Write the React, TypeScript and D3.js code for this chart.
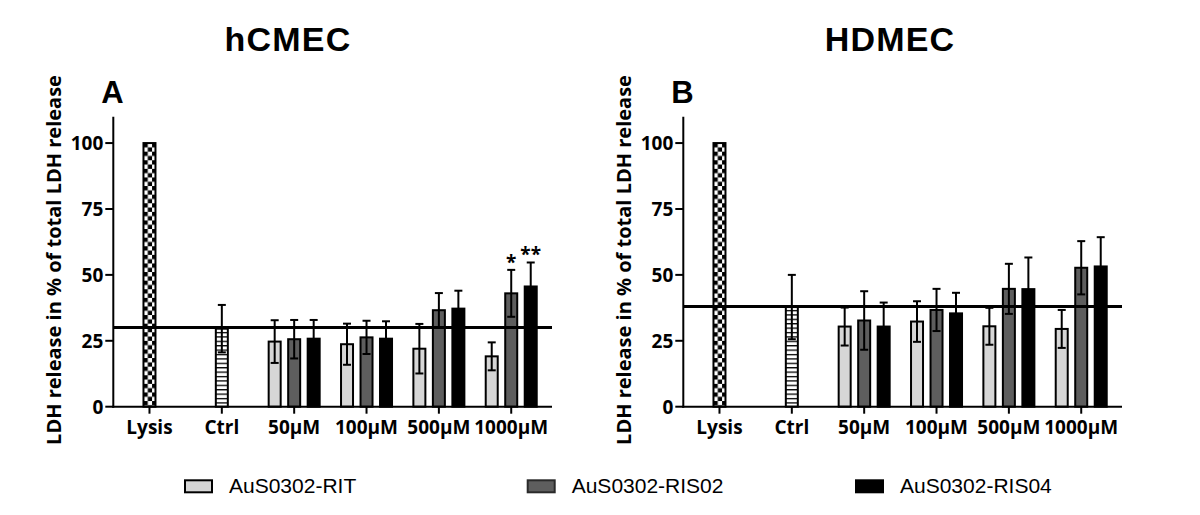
import React from "react";
import * as d3 from "d3";

// ---------- data ----------
const categories = ["Lysis", "Ctrl", "50µM", "100µM", "500µM", "1000µM"];
const concentrations = ["50µM", "100µM", "500µM", "1000µM"];
const seriesNames = ["AuS0302-RIT", "AuS0302-RIS02", "AuS0302-RIS04"];
const yTicks = [0, 25, 50, 75, 100];

// panel A – hCMEC
const hcmecLysis = 100;
const hcmecCtrl = 29.6;
const hcmecCtrlErr = 9.0;
const hcmecBaseline = 30.0;
const hcmecRIT = [24.7, 23.7, 22.0, 19.1];
const hcmecRITErr = [8.1, 7.8, 9.4, 5.3];
const hcmecRIS02 = [25.6, 26.3, 36.6, 43.0];
const hcmecRIS02Err = [7.3, 6.3, 6.5, 8.9];
const hcmecRIS04 = [25.8, 25.8, 37.2, 45.6];
const hcmecRIS04Err = [7.1, 6.6, 6.8, 9.1];
const hcmecSig = [
  ["", "", "", ""],
  ["", "", "", "*"],
  ["", "", "", "**"],
];

// panel B – HDMEC
const hdmecLysis = 100;
const hdmecCtrl = 37.8;
const hdmecCtrlErr = 12.2;
const hdmecBaseline = 38.0;
const hdmecRIT = [30.4, 32.3, 30.5, 29.5];
const hdmecRITErr = [7.2, 7.7, 7.0, 7.2];
const hdmecRIS02 = [32.7, 36.7, 44.7, 52.7];
const hdmecRIS02Err = [11.1, 8.0, 9.5, 10.1];
const hdmecRIS04 = [30.4, 35.4, 44.6, 53.2];
const hdmecRIS04Err = [9.1, 7.8, 12.0, 11.1];
const hdmecSig = [
  ["", "", "", ""],
  ["", "", "", ""],
  ["", "", "", ""],
];

const seriesFill = ["#d6d6d6", "#5e5e5e", "#000000"];

const TICK_FONT = "'Open Sans', sans-serif";
const TITLE_FONT = "'Liberation Sans', Arial, sans-serif";

type PanelProps = {
  dx: number;
  title: string;
  titleX: number;
  letter: string;
  lysis: number;
  ctrl: number;
  ctrlErr: number;
  baseline: number;
  series: number[][];
  errs: number[][];
  sig: string[][];
  id: string;
};

function ErrorBar({ x, y0, y1, cap }: { x: number; y0: number; y1: number; cap: number }) {
  return (
    <g stroke="#000" strokeWidth={2} fill="none">
      <line x1={x} x2={x} y1={y0} y2={y1} />
      <line x1={x - cap} x2={x + cap} y1={y0} y2={y0} />
      <line x1={x - cap} x2={x + cap} y1={y1} y2={y1} />
    </g>
  );
}

function Panel(p: PanelProps) {
  const axisLeft = 113.3 + p.dx;
  const axisRight = 552 + p.dx;
  const x = d3
    .scaleBand<string>()
    .domain(categories)
    .range([axisLeft, axisLeft + 6 * 72.35])
    .padding(0);
  const y = d3.scaleLinear().domain([0, 110]).range([406.7, 116.7]);
  const inner = d3.scalePoint<string>().domain(seriesNames).range([-19.5, 19.5]);
  const bw = 12;
  const cx = (c: string) => (x(c) as number) + x.bandwidth() / 2;
  const y0 = y(0);

  return (
    <g>
      <defs>
        <pattern id={`check-${p.id}`} patternUnits="userSpaceOnUse" width={8.6} height={8.6}
          x={cx("Lysis") - bw / 2} y={y(p.lysis)}>
          <rect width={8.6} height={8.6} fill="#fff" />
          <rect width={4.3} height={4.3} fill="#000" />
          <rect x={4.3} y={4.3} width={4.3} height={4.3} fill="#000" />
        </pattern>
        <pattern id={`stripe-${p.id}`} patternUnits="userSpaceOnUse" width={10} height={4.4}
          x={0} y={y0}>
          <rect width={10} height={4.4} fill="#fff" />
          <rect y={0} width={10} height={1.3} fill="#000" />
        </pattern>
      </defs>

      {/* title & letter */}
      <text x={p.titleX} y={51} textAnchor="middle" fontFamily={TITLE_FONT} fontWeight="bold"
        fontSize={34} letterSpacing={1.2}>{p.title}</text>
      <text x={112.5 + p.dx} y={103} textAnchor="middle" fontFamily={TITLE_FONT} fontWeight="bold"
        fontSize={31}>{p.letter}</text>

      {/* y label */}
      <text transform={`translate(${53 + p.dx},${260}) rotate(-90)`} textAnchor="middle"
        dominantBaseline="central" fontFamily={TICK_FONT} fontWeight="bold" fontSize={20}>
        LDH release in % of total LDH release
      </text>

      {/* Lysis bar */}
      <rect x={cx("Lysis") - bw / 2} y={y(p.lysis)} width={bw} height={y0 - y(p.lysis)}
        fill={`url(#check-${p.id})`} stroke="#000" strokeWidth={2} />
      {/* Ctrl bar */}
      <rect x={cx("Ctrl") - bw / 2} y={y(p.ctrl)} width={bw} height={y0 - y(p.ctrl)}
        fill={`url(#stripe-${p.id})`} stroke="#000" strokeWidth={2} />
      <ErrorBar x={cx("Ctrl")} y0={y(p.ctrl + p.ctrlErr)} y1={y(p.ctrl - p.ctrlErr)} cap={4} />

      {/* grouped bars */}
      {concentrations.map((c, ci) =>
        seriesNames.map((s, si) => {
          const v = p.series[si][ci];
          const e = p.errs[si][ci];
          const bx = cx(c) + (inner(s) as number);
          return (
            <g key={c + s}>
              <rect x={bx - bw / 2} y={y(v)} width={bw} height={y0 - y(v)} fill={seriesFill[si]}
                stroke="#000" strokeWidth={2} />
              <ErrorBar x={bx} y0={y(v + e)} y1={y(v - e)} cap={4} />
              {p.sig[si][ci] ? (
                <text x={bx} y={y(v + e) - 1} textAnchor="middle" fontFamily={TICK_FONT}
                  fontWeight="bold" fontSize={19}>{p.sig[si][ci]}</text>
              ) : null}
            </g>
          );
        })
      )}

      {/* baseline (control level) */}
      <line x1={axisLeft} x2={axisRight} y1={y(p.baseline)} y2={y(p.baseline)} stroke="#000"
        strokeWidth={3} />

      {/* y axis */}
      <line x1={axisLeft} x2={axisLeft} y1={y(110)} y2={y0 + 1} stroke="#000" strokeWidth={2} />
      {yTicks.map((t) => (
        <g key={t}>
          <line x1={axisLeft - 8} x2={axisLeft} y1={y(t)} y2={y(t)} stroke="#000" strokeWidth={2} />
          <text x={axisLeft - 10} y={y(t)} textAnchor="end" dominantBaseline="central"
            fontFamily={TICK_FONT} fontWeight="bold" fontSize={19}>{t}</text>
        </g>
      ))}

      {/* x axis */}
      <line x1={axisLeft - 1} x2={axisRight} y1={y0} y2={y0} stroke="#000" strokeWidth={2} />
      {categories.map((c) => (
        <g key={c}>
          <line x1={cx(c)} x2={cx(c)} y1={y0} y2={y0 + 7} stroke="#000" strokeWidth={2} />
          <text x={cx(c)} y={433.5} textAnchor="middle" fontFamily={TICK_FONT} fontWeight="bold"
            fontSize={19}>{c}</text>
        </g>
      ))}
    </g>
  );
}

const legendX = [184, 526.7, 855];

export default function App() {
  return (
    <svg width={1200} height={515} style={{ position: "absolute", left: 0, top: 0, background: "#fff" }}>
      <rect width={1200} height={515} fill="#fff" />
      <Panel id="a" dx={0} title="hCMEC" titleX={288} letter="A" lysis={hcmecLysis}
        ctrl={hcmecCtrl} ctrlErr={hcmecCtrlErr} baseline={hcmecBaseline}
        series={[hcmecRIT, hcmecRIS02, hcmecRIS04]} errs={[hcmecRITErr, hcmecRIS02Err, hcmecRIS04Err]}
        sig={hcmecSig} />
      <Panel id="b" dx={570} title="HDMEC" titleX={890} letter="B" lysis={hdmecLysis}
        ctrl={hdmecCtrl} ctrlErr={hdmecCtrlErr} baseline={hdmecBaseline}
        series={[hdmecRIT, hdmecRIS02, hdmecRIS04]} errs={[hdmecRITErr, hdmecRIS02Err, hdmecRIS04Err]}
        sig={hdmecSig} />
      {seriesNames.map((s, i) => (
        <g key={s}>
          <rect x={legendX[i] + 1} y={480.3} width={27} height={12} fill={seriesFill[i]}
            stroke={i === 0 ? "#000" : i === 1 ? "#2a2a2a" : "#000"} strokeWidth={2} />
          <text x={legendX[i] + 45} y={492.7} fontFamily={TITLE_FONT} fontSize={21}>{s}</text>
        </g>
      ))}
    </svg>
  );
}
